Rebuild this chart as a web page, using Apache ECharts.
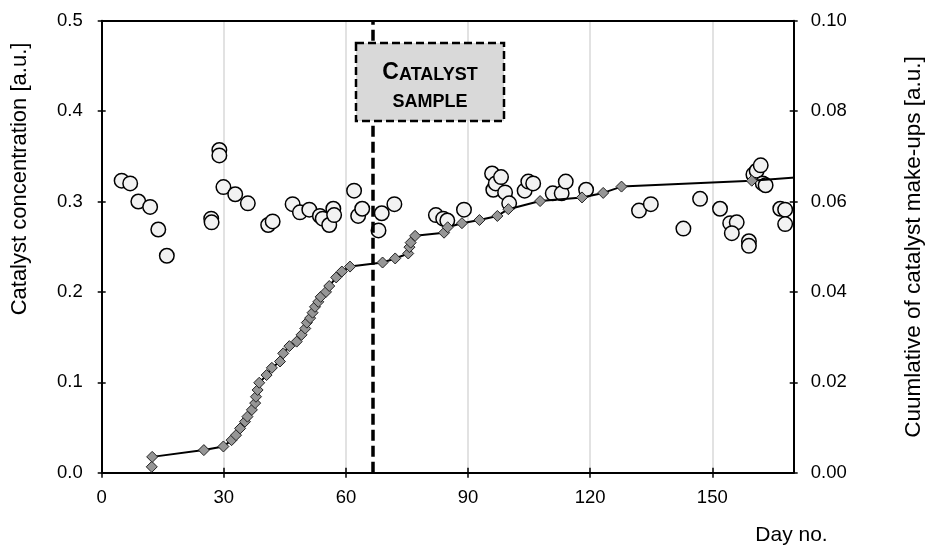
<!DOCTYPE html>
<html>
<head>
<meta charset="utf-8">
<script src="https://cdn.jsdelivr.net/npm/echarts@6/dist/echarts.min.js"></script>
<style>html,body{margin:0;padding:0;background:#fff}#c{width:926px;height:546px}</style>
</head>
<body>
<div id="c"></div>
<script>
// Catalyst concentration (left axis) – circles
const circleDays = [4.9,7.0,9.0,11.9,13.9,16.0,26.9,27.0,28.9,28.9,29.9,32.8,35.9,40.9,42.0,46.9,48.7,51.0,53.6,54.3,55.9,56.9,57.1,62.0,63.0,64.0,68.0,68.8,71.9,82.1,83.9,84.9,89.0,95.9,96.2,96.8,98.1,99.1,100.1,103.9,104.8,106.0,110.8,113.0,114.0,119.0,132.0,134.9,142.9,147.0,151.9,154.4,156.0,154.8,159.0,159.0,160.1,160.9,161.9,162.4,163.1,166.7,167.9,167.9];
const circleValues = [0.323,0.320,0.300,0.294,0.269,0.240,0.281,0.277,0.357,0.351,0.316,0.308,0.298,0.274,0.278,0.297,0.288,0.291,0.284,0.281,0.274,0.292,0.285,0.312,0.284,0.292,0.268,0.287,0.297,0.285,0.281,0.279,0.291,0.331,0.313,0.320,0.327,0.310,0.298,0.312,0.322,0.320,0.309,0.309,0.322,0.313,0.290,0.297,0.270,0.303,0.292,0.276,0.277,0.265,0.256,0.251,0.330,0.334,0.340,0.320,0.318,0.292,0.291,0.275];
// Cumulative catalyst make-ups (right axis) – diamonds with line
const makeupDays = [12.3,12.4,25.1,29.9,31.9,33.0,34.0,35.2,35.8,36.9,37.7,37.9,38.3,38.7,40.5,41.8,43.8,44.6,46.1,47.9,49.1,50.0,50.4,51.2,51.8,52.4,53.2,53.8,55.1,55.9,57.6,59.0,61.0,69.0,72.1,75.3,75.6,75.9,77.0,84.1,85.0,88.5,92.8,97.2,99.9,107.7,118.0,123.2,127.7,159.7,176.0];
const makeupValues = [0.0013,0.0035,0.0050,0.0058,0.0072,0.0083,0.0098,0.0113,0.0124,0.0139,0.0154,0.0168,0.0183,0.0199,0.0216,0.0232,0.0246,0.0264,0.0280,0.0290,0.0305,0.0319,0.0332,0.0342,0.0354,0.0367,0.0378,0.0389,0.0400,0.0413,0.0432,0.0445,0.0456,0.0465,0.0474,0.0485,0.0499,0.0509,0.0524,0.0531,0.0543,0.0552,0.0559,0.0568,0.0583,0.0601,0.0609,0.0619,0.0633,0.0646,0.0657];
const sampleDay = 66.7;
const xTicks = {min: 0, max: 170, interval: 30};
const leftTicks = {min: 0, max: 0.5, interval: 0.1};
const rightTicks = {min: 0, max: 0.1, interval: 0.02};

const FONT = "'Liberation Sans', Arial, sans-serif";
const circleData = circleDays.map((d, i) => [d, circleValues[i]]);
const makeupData = makeupDays.map((d, i) => [d, makeupValues[i]]);

const chart = echarts.init(document.getElementById('c'), null, {renderer: 'canvas'});
chart.setOption({
  animation: false,
  backgroundColor: '#fff',
  grid: {left: 101.7, right: 132.3, top: 20.7, bottom: 73.3, containLabel: false},
  xAxis: [
    {type: 'value', position: 'bottom', min: xTicks.min, max: xTicks.max, interval: xTicks.interval,
     axisLine: {show: true, onZero: false, lineStyle: {color: '#000', width: 2}},
     axisTick: {show: true, inside: false, length: 5, lineStyle: {color: '#000', width: 1.5}},
     axisLabel: {show: true, margin: 16, fontSize: 18.5, color: '#000', fontFamily: FONT, showMaxLabel: false},
     splitLine: {show: true, lineStyle: {color: '#d9d9d9', width: 1.5}}},
    {type: 'value', position: 'bottom', min: xTicks.min, max: xTicks.max, interval: xTicks.interval,
     axisLine: {show: false, onZero: false}, axisLabel: {show: false}, splitLine: {show: false},
     axisTick: {show: true, inside: true, length: 5, lineStyle: {color: '#000', width: 1.5}}},
    {type: 'value', position: 'top', min: xTicks.min, max: xTicks.max,
     axisLine: {show: true, onZero: false, lineStyle: {color: '#000', width: 2}},
     axisTick: {show: false}, axisLabel: {show: false}, splitLine: {show: false}}
  ],
  yAxis: [
    {type: 'value', position: 'left', min: leftTicks.min, max: leftTicks.max, interval: leftTicks.interval,
     axisLine: {show: true, onZero: false, lineStyle: {color: '#000', width: 2}},
     axisTick: {show: true, inside: false, length: 4, lineStyle: {color: '#000', width: 1.5}},
     axisLabel: {show: true, margin: 19, fontSize: 18.5, color: '#000', fontFamily: FONT, formatter: v => v.toFixed(1)},
     splitLine: {show: false}},
    {type: 'value', position: 'right', min: rightTicks.min, max: rightTicks.max, interval: rightTicks.interval,
     axisLine: {show: true, onZero: false, lineStyle: {color: '#000', width: 2}},
     axisTick: {show: true, inside: false, length: 4, lineStyle: {color: '#000', width: 1.5}},
     axisLabel: {show: true, margin: 17, fontSize: 18.5, color: '#000', fontFamily: FONT, formatter: v => v.toFixed(2)},
     splitLine: {show: false}},
    {type: 'value', position: 'left', min: leftTicks.min, max: leftTicks.max, interval: leftTicks.interval,
     axisLine: {show: false, onZero: false}, axisLabel: {show: false}, splitLine: {show: false},
     axisTick: {show: true, inside: true, length: 4, lineStyle: {color: '#000', width: 1.5}}},
    {type: 'value', position: 'right', min: rightTicks.min, max: rightTicks.max, interval: rightTicks.interval,
     axisLine: {show: false, onZero: false}, axisLabel: {show: false}, splitLine: {show: false},
     axisTick: {show: true, inside: true, length: 4, lineStyle: {color: '#000', width: 1.5}}}
  ],
  series: [
    {type: 'scatter', xAxisIndex: 0, yAxisIndex: 0, data: [], z: 1, silent: true,
     markLine: {silent: true, symbol: 'none', label: {show: false},
       lineStyle: {color: '#000', width: 3.5, type: [11, 5]},
       data: [{xAxis: sampleDay}]}},
    {type: 'scatter', name: 'Catalyst concentration', xAxisIndex: 0, yAxisIndex: 0, z: 2,
     data: circleData, symbol: 'circle', symbolSize: 14.5,
     itemStyle: {color: '#f2f2f2', borderColor: '#000', borderWidth: 1.5, opacity: 1}},
    {type: 'line', name: 'Cumulative make-ups', xAxisIndex: 0, yAxisIndex: 1, z: 3,
     data: makeupData, symbol: 'diamond', symbolSize: 11, showSymbol: true, clip: true,
     lineStyle: {color: '#000', width: 2},
     itemStyle: {color: '#969696', borderColor: '#222', borderWidth: 1}}
  ],
  graphic: [
    {type: 'rect', z: 100, shape: {x: 356, y: 43, width: 148, height: 78},
     style: {fill: '#d9d9d9', stroke: '#000', lineWidth: 2.5, lineDash: [8, 4]}},
    {type: 'text', z: 101, x: 430, y: 84,
     style: {text: '{c|C}{s|ATALYST}\n{s|SAMPLE}', align: 'center', verticalAlign: 'middle',
       fill: '#000', fontFamily: FONT,
       rich: {c: {fontSize: 23, fontWeight: 'bold', fontFamily: FONT, lineHeight: 27, verticalAlign: 'bottom'},
              s: {fontSize: 18, fontWeight: 'bold', fontFamily: FONT, lineHeight: 27, verticalAlign: 'bottom'}}}},
    {type: 'text', z: 100, x: 19.5, y: 179, rotation: Math.PI / 2,
     style: {text: 'Catalyst concentration [a.u.]', fontSize: 22, fontFamily: FONT, fill: '#000', align: 'center', verticalAlign: 'middle'}},
    {type: 'text', z: 100, x: 914, y: 247, rotation: Math.PI / 2,
     style: {text: 'Cuumlative of catalyst make-ups [a.u.]', fontSize: 22.5, fontFamily: FONT, fill: '#000', align: 'center', verticalAlign: 'middle'}},
    {type: 'text', z: 100, x: 791.5, y: 535,
     style: {text: 'Day no.', fontSize: 21, fontFamily: FONT, fill: '#000', align: 'center', verticalAlign: 'middle'}}
  ]
});
</script>
</body>
</html>
